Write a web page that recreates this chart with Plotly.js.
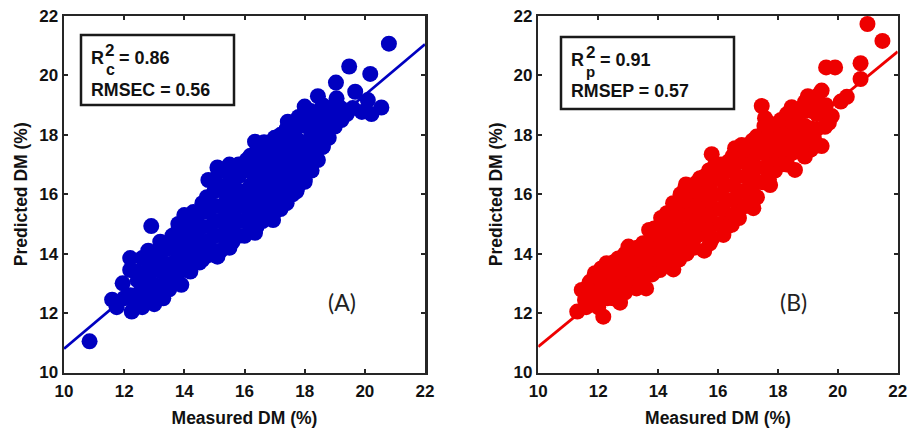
<!DOCTYPE html>
<html>
<head>
<meta charset="utf-8">
<script src="https://cdn.plot.ly/plotly-3.0.1.min.js"></script>
<style>html,body{margin:0;padding:0;background:#fff}</style>
</head>
<body>
<div id="chart" style="width:909px;height:431px"></div>
<script>
const tickValues = [10,12,14,16,18,20,22];
const lineX = [10,22];
const lineA = [10.8,21.05];
const lineB = [10.87,20.8];

const measuredA = [
10.85,11.6,11.75,11.95,12.25,12.2,12.2,12.9,13.0,13.3,13.9,
20.8,19.48,20.18,19.04,19.68,18.44,19.06,18.0,20.55,20.22,19.9,20.1,19.22,19.0,18.6,18.44,18.23,18.0,17.73,
17.44,16.35,16.65,16.07,15.5,15.1,14.8,14.3,14.0,13.8,13.6,13.2,12.8,
16.95,16.35,15.5,15.1,14.5,17.0,17.4,16.6,
12.4,12.45,12.35,12.8,12.75,12.85,13.2,13.25,13.15,13.6,13.65,13.55,
14.0,14.05,13.95,14.0,14.4,14.35,14.45,14.4,14.8,14.75,14.85,14.8,14.75,15.2,15.25,15.15,15.2,15.25,
15.6,15.55,15.65,15.6,15.55,16.0,16.05,15.95,16.0,16.05,16.4,16.45,16.35,16.4,16.35,
16.8,16.85,16.75,16.8,16.85,16.9,17.2,17.25,17.15,17.2,17.25,17.2,17.6,17.65,17.55,17.6,17.65,
18.0,18.05,17.95,18.0,18.4,18.45,18.35,18.4,18.8,18.85,18.75,
12.6,12.6,12.6,13.0,13.0,13.0,13.4,13.4,13.4,
13.8,13.8,13.8,13.8,14.2,14.2,14.2,14.2,14.6,14.6,14.6,14.6,14.6,
15.0,15.0,15.0,15.0,15.0,15.0,15.4,15.4,15.4,15.4,15.4,15.4,
15.8,15.8,15.8,15.8,15.8,15.8,16.2,16.2,16.2,16.2,16.2,16.2,
16.6,16.6,16.6,16.6,16.6,16.6,17.0,17.0,17.0,17.0,17.0,17.0,
17.4,17.4,17.4,17.4,17.4,17.4,17.8,17.8,17.8,17.8,17.8,17.8,
18.2,18.2,18.2,18.2,18.2,18.6,18.6,18.6,18.6,19.0,19.0,19.4,19.6,19.2,
12.6,13.0,13.4,13.7,14.2,14.6,12.2,12.4,12.0,12.9,13.6,12.6,13.1,13.5
];
const predictedA = [
11.05,12.45,12.2,13.0,12.05,13.45,13.85,14.93,12.3,12.5,12.95,
21.07,20.3,20.05,19.76,19.45,19.3,19.23,18.95,18.92,18.7,18.77,19.17,18.5,18.28,17.6,17.15,16.8,16.42,16.1,
18.44,17.77,17.75,17.15,17.0,16.9,16.48,15.4,15.3,15.0,14.6,14.4,14.1,
15.13,14.7,14.2,13.9,13.7,15.5,15.7,15.2,
12.6,13.1,12.4,12.7,13.2,13.7,12.9,13.4,13.9,13.2,13.7,14.2,
13.5,14.0,14.5,14.9,13.8,14.3,14.8,15.2,13.95,14.4,14.9,15.4,15.9,14.1,14.6,15.1,15.6,16.2,
14.4,14.9,15.4,15.9,16.5,14.6,15.1,15.6,16.1,16.8,14.9,15.4,15.9,16.4,17.0,
15.2,15.7,16.2,16.7,17.2,17.6,15.5,16.0,16.5,17.0,17.5,18.0,16.0,16.5,17.0,17.5,18.0,
16.5,17.0,17.5,18.3,17.2,17.7,18.2,18.7,17.9,18.4,18.9,
12.85,13.35,13.85,12.95,13.45,13.95,13.15,13.65,14.15,
13.35,13.85,14.35,14.8,13.65,14.15,14.65,15.15,13.9,14.4,14.9,15.4,15.7,
14.1,14.6,15.1,15.6,16.1,16.5,14.3,14.8,15.3,15.8,16.3,16.75,
14.6,15.1,15.6,16.1,16.6,17.0,14.8,15.3,15.8,16.3,16.8,17.3,
15.1,15.6,16.1,16.6,17.1,17.5,15.4,15.9,16.4,16.9,17.4,17.9,
15.8,16.3,16.8,17.3,17.8,18.2,16.3,16.8,17.3,17.8,18.3,18.6,
16.9,17.4,17.9,18.4,18.8,17.6,18.1,18.6,19.0,18.5,18.9,18.7,18.9,18.9,
12.4,12.6,12.9,13.1,13.4,13.8,12.6,13.4,12.5,12.9,13.3,12.2,12.55,12.8
];

const measuredB = [
20.99,21.49,20.76,20.76,19.61,19.91,20.3,20.1,19.46,19.07,19.8,19.57,19.46,18.9,18.57,17.74,17.18,
17.46,18.46,17.57,17.29,16.79,16.57,15.79,15.9,15.4,14.93,14.62,14.29,
13.87,13.01,13.5,12.28,12.67,11.89,11.45,11.73,11.3,11.56,12.17,12.73,13.28,13.6,14.06,14.51,14.95,15.54,16.18,16.46,15.73,16.7,
11.9,12.0,12.3,12.35,12.25,12.7,12.75,12.8,13.1,13.15,13.05,13.5,13.55,13.45,
13.9,13.95,13.85,14.3,14.35,14.25,14.3,14.7,14.75,14.65,14.7,14.75,
15.1,15.15,15.05,15.1,15.15,15.5,15.55,15.45,15.5,15.55,15.9,15.95,15.85,15.9,15.95,
16.3,16.35,16.25,16.3,16.35,16.7,16.75,16.65,16.7,16.75,17.1,17.15,17.05,17.1,17.15,
17.5,17.55,17.45,17.5,17.55,17.9,17.95,17.85,17.9,18.3,18.35,18.25,18.3,18.7,18.75,18.65,19.1,19.15,19.4,
11.7,11.7,12.1,12.1,12.1,12.5,12.5,12.5,12.9,12.9,12.9,13.3,13.3,13.3,
13.7,13.7,13.7,13.7,14.1,14.1,14.1,14.1,14.5,14.5,14.5,14.5,14.5,
14.9,14.9,14.9,14.9,14.9,15.3,15.3,15.3,15.3,15.3,15.7,15.7,15.7,15.7,15.7,
16.1,16.1,16.1,16.1,16.1,16.5,16.5,16.5,16.5,16.5,16.9,16.9,16.9,16.9,16.9,
17.3,17.3,17.3,17.3,17.3,17.7,17.7,17.7,17.7,17.7,18.1,18.1,18.1,18.1,
18.5,18.5,18.5,18.5,18.9,18.9,18.9,18.9,19.3,19.3,19.3,
19.5,19.6,19.3,19.7,19.2,19.1,18.8,18.3,19.0,
11.6,12.0,12.5,12.9,13.4,13.8,14.2,14.7,15.2,15.8,16.3,16.6
];
const predictedB = [
21.73,21.16,20.41,19.88,20.27,20.27,19.28,19.12,19.49,19.17,18.63,18.27,17.62,17.27,16.82,16.31,15.53,
18.97,18.93,18.56,17.94,17.66,17.55,17.35,16.98,16.54,16.33,15.64,15.36,
14.85,14.24,14.35,13.68,13.84,13.34,12.78,13.06,12.05,12.44,11.88,12.35,12.83,12.83,13.45,13.47,14.0,14.1,14.63,14.97,14.35,15.2,
12.4,12.9,12.5,13.0,13.4,12.7,13.2,13.6,12.9,13.4,13.9,13.2,13.7,14.1,
13.6,14.1,14.6,13.9,14.4,14.9,15.2,14.2,14.7,15.2,15.6,16.0,
14.5,15.0,15.5,16.0,16.3,14.7,15.2,15.7,16.2,16.6,15.0,15.5,16.0,16.5,17.0,
15.3,15.8,16.3,16.8,17.1,15.6,16.1,16.6,17.1,17.5,15.8,16.3,16.8,17.3,17.8,
16.4,16.9,17.4,17.9,18.3,16.8,17.3,17.8,18.3,17.2,17.7,18.2,18.7,17.7,18.2,18.7,18.2,18.8,18.9,
12.6,13.0,12.6,13.1,13.5,12.8,13.3,13.7,13.0,13.5,14.0,13.3,13.8,14.2,
13.5,14.0,14.4,14.8,13.8,14.3,14.8,15.2,14.0,14.5,15.0,15.5,15.7,
14.3,14.8,15.3,15.8,16.2,14.6,15.1,15.6,16.1,16.4,14.8,15.3,15.8,16.3,16.8,
15.0,15.5,16.0,16.5,17.0,15.3,15.8,16.3,16.8,17.3,15.6,16.1,16.6,17.1,17.5,
15.9,16.4,16.9,17.4,17.8,16.5,17.0,17.5,18.0,18.4,17.0,17.5,18.0,18.5,
17.4,17.9,18.4,18.8,17.8,18.3,18.8,19.1,18.2,18.7,19.1,
18.7,19.0,19.3,18.4,17.9,17.5,17.6,17.0,19.3,
12.2,12.2,12.5,12.7,13.0,13.3,13.6,13.8,14.2,14.5,14.9,15.2
];

const blue = '#0000c0';
const red = '#ee0000';
const ink = '#262626';
const W = 909, H = 431;
const px = v => v / W;
const py = v => 1 - v / H;
const sans = '"Liberation Sans", Arial, sans-serif';

function axis(domain, anchor, titleText, standoff, labelOffset) {
  return {
    domain: domain, anchor: anchor, range: [10,22], tickmode: 'array',
    tickvals: tickValues, ticktext: tickValues.map(String),
    ticks: 'inside', ticklen: 4, tickwidth: 2, tickcolor: ink,
    showline: true, mirror: 'allticks', linecolor: ink, linewidth: 2.5,
    showgrid: false, zeroline: false, ticklabelstandoff: labelOffset,
    tickfont: {family: sans, size: 17, color: '#111', weight: 700},
    title: {text: titleText, standoff: standoff, font: {family: sans, size: 17.5, color: '#111', weight: 700}}
  };
}

const note = (text, x, y, size, extra) => Object.assign({
  text: text, xref: 'paper', yref: 'paper', x: px(x), y: py(y), xanchor: 'left', yanchor: 'middle',
  showarrow: false, borderpad: 0, font: {family: sans, size: size, color: '#111', weight: 700}
}, extra || {});

const box = (x0, x1, y0, y1) => ({
  type: 'rect', xref: 'paper', yref: 'paper', x0: px(x0), x1: px(x1), y0: py(y0), y1: py(y1),
  line: {color: '#1a1a1a', width: 2.5}, fillcolor: 'rgba(0,0,0,0)', layer: 'above'
});

const data = [
  {type:'scatter', mode:'lines', x:lineX, y:lineA, xaxis:'x', yaxis:'y', line:{color:blue,width:2.8}, showlegend:false, hoverinfo:'skip'},
  {type:'scatter', mode:'markers', x:measuredA, y:predictedA, xaxis:'x', yaxis:'y', marker:{color:blue,size:16,line:{width:0}}, showlegend:false},
  {type:'scatter', mode:'lines', x:lineX, y:lineB, xaxis:'x2', yaxis:'y2', line:{color:red,width:2.8}, showlegend:false, hoverinfo:'skip'},
  {type:'scatter', mode:'markers', x:measuredB, y:predictedB, xaxis:'x2', yaxis:'y2', marker:{color:red,size:16,line:{width:0}}, showlegend:false}
];

const yDomain = [(H-372.5)/H, (H-16)/H];
const layout = {
  width: W, height: H, autosize: false,
  margin: {l:0, r:0, t:0, b:0, pad:0},
  paper_bgcolor: '#fff', plot_bgcolor: '#fff', showlegend: false,
  xaxis: axis([64/W, 425/W], 'y', 'Measured DM (%)', 12, 2),
  yaxis: axis(yDomain, 'x', 'Predicted DM (%)', 7, 0),
  xaxis2: axis([538.3/W, 897.7/W], 'y2', 'Measured DM (%)', 12, 2),
  yaxis2: axis(yDomain, 'x2', 'Predicted DM (%)', 7, 0),
  shapes: [box(81,234,35,105), box(561,734,37,109)],
  annotations: [
    note('R', 90, 58, 18), note('2', 103.5, 50, 17), note('c', 105, 70, 16),
    note('= 0.86', 118, 58, 18), note('RMSEC = 0.56', 90, 89.5, 17.8),
    note('R', 570, 60, 18), note('2', 584.5, 52, 17), note('p', 585, 71, 15),
    note('= 0.91', 599, 60, 18), note('RMSEP = 0.57', 570, 90.5, 17.8),
    note('(A)', 327, 302, 23, {font:{family:'Lato, "Open Sans", sans-serif', size:23, color:'#222'}}),
    note('(B)', 779, 302, 23, {font:{family:'Lato, "Open Sans", sans-serif', size:23, color:'#222'}})
  ]
};
Plotly.newPlot('chart', data, layout, {displayModeBar:false, staticPlot:true});
</script>
</body>
</html>
